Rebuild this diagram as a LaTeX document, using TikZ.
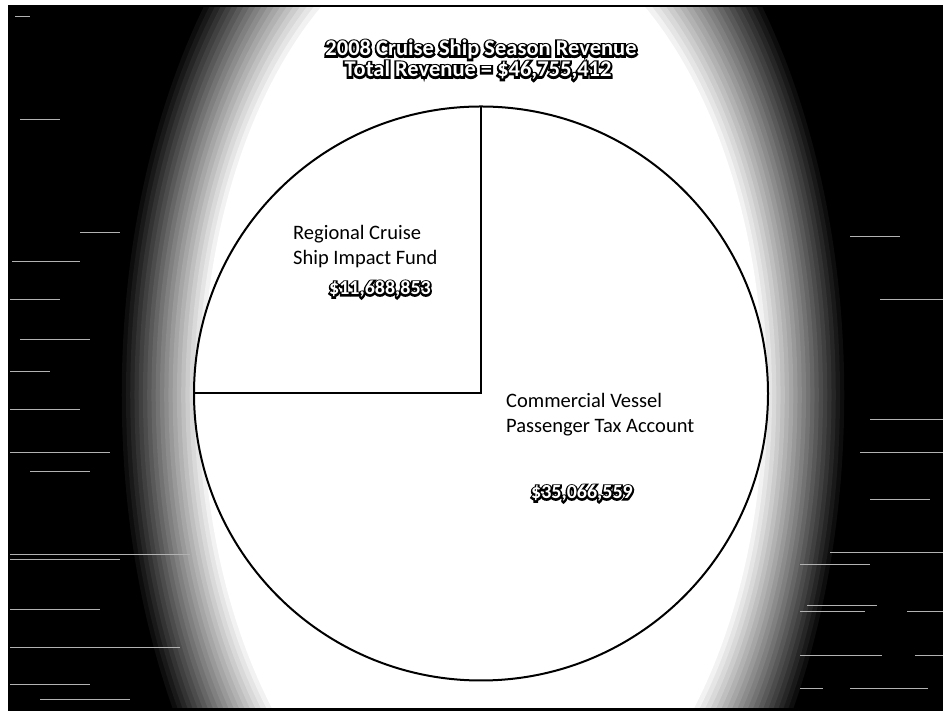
\documentclass[tikz,border=0pt]{standalone}
\usepackage{fontspec}
\setmainfont{Carlito}
% stroked copy of the face, used as the dark rim behind white lettering
\newfontfamily\haloFam{Carlito}[UprightFeatures={FakeBold=17}, BoldFeatures={FakeBold=17}]

% white text sitting on a black, stroked copy of itself
% #1 size, #2 anchor, #3 name, #4 position, #5 text
\newcommand\haloNode[5]{%
  \node[anchor=#2, inner sep=0pt, text=black,
        font=\haloFam\fontsize{#1}{#1}\selectfont\bfseries] (#3-rim) at #4 {#5};
  \node[anchor=#2, inner sep=0pt, text=white,
        font=\fontsize{#1}{#1}\selectfont\bfseries] (#3) at #4 {#5};
}

\begin{document}
\begin{tikzpicture}[x=1pt, y=1pt,
  labelfont/.style={font=\fontsize{20.5}{25}\selectfont, inner sep=0pt, anchor=base west, align=left, text=black},
  pieline/.style={draw=black, line width=2pt},
  streak/.style={draw=white!70!black, line width=1pt}]

  % page and dark frame
  \useasboundingbox (0,0) rectangle (943,711);
  \fill[white] (0,0) rectangle (943,711);
  \fill[black] (8,0) rectangle (943,706);

  % glow: stacked ellipses running from black at the rim to white inside
  \begin{scope}
    \clip (10,3) rectangle (943,703);
    \foreach \i in {0,...,20} {
      \pgfmathsetmacro\s{0.86-0.01*\i}
      \pgfmathtruncatemacro\w{5*\i}
      \fill[white!\w!black] (483,316) ellipse [x radius=425*\s, y radius=720*\s];
    }
  \end{scope}

  % scan streaks on the dark margins
  \foreach \xa/\xb/\yy in {15/30/17, 20/60/120, 80/120/233, 12/80/262, 10/60/300,
      20/90/340, 10/50/372, 10/80/410, 10/110/453, 30/90/472, 10/190/555,
      10/120/560, 10/100/610, 10/180/648, 10/90/685, 40/130/700,
      850/900/237, 880/943/300, 870/943/420, 860/943/453, 870/930/500,
      830/943/553, 800/870/565, 807/877/606, 800/865/612, 907/943/612,
      800/882/656, 915/943/656, 800/823/689, 850/928/689}
    \draw[streak] (\xa,711-\yy) -- (\xb,711-\yy);

  % pie
  \coordinate (c) at (481,317.5);
  \coordinate (top) at (481,604.5);
  \coordinate (left) at (194,317.5);
  \fill[white] (c) circle[radius=287];
  \draw[pieline] (c) circle[radius=287];
  \draw[pieline] (top) -- (c) -- (left);

  % title
  \haloNode{22.5}{base}{title1}{(481,655)}{2008 Cruise Ship Season Revenue}
  \haloNode{22.5}{base}{title2}{(478,634)}{Total Revenue = \$46,755,412}

  % slice labels
  \node[labelfont] (fund) at (293,446) {Regional Cruise\\Ship Impact Fund};
  \haloNode{20}{base west}{fundamt}{(329,416)}{\$11,688,853}

  \node[labelfont] (tax) at (506,278) {Commercial Vessel\\Passenger Tax Account};
  \haloNode{20}{base west}{taxamt}{(531,212)}{\$35,066,559}
\end{tikzpicture}
\end{document}
